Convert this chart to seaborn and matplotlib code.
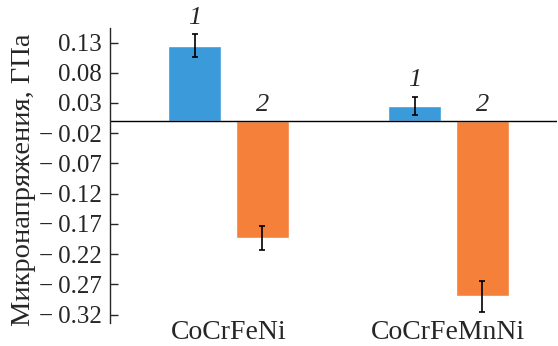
import pandas as pd
import matplotlib
matplotlib.use("Agg")
import matplotlib.pyplot as plt
import seaborn as sns

# ==========================
# DATA
# ==========================

alloys = ["CoCrFeNi", "CoCrFeMnNi"]
series = ["1", "2"]
values_1 = [0.125, 0.025]
values_2 = [-0.193, -0.290]
errors_1 = [0.019, 0.015]
errors_2 = [0.0195, 0.025]
yticks = [0.13, 0.08, 0.03, -0.02, -0.07, -0.12, -0.17, -0.22, -0.27, -0.32]

df = pd.DataFrame({
    "alloy": alloys * 2,
    "series": [series[0]] * 2 + [series[1]] * 2,
    "value": values_1 + values_2,
    "err": errors_1 + errors_2,
})

# ==========================
# STYLE
# ==========================

sns.set_style("ticks")
plt.rcParams["font.family"] = ["Liberation Serif", "DejaVu Serif"]

fig = plt.figure(figsize=(5.58, 3.46), dpi=100)
ax = fig.add_axes([0.197, 0.0665, 0.801, 0.8525])

sns.barplot(
    data=df,
    x="alloy",
    y="value",
    hue="series",
    hue_order=series,
    order=alloys,
    palette=["#3b9ad9", "#f5803a"],
    width=0.614,
    gap=0.215,
    errorbar=None,
    legend=False,
    saturation=1,
    ax=ax
)

# ==========================
# ERROR BARS + LABELS
# ==========================

for cont, lab, vals, errs in zip(ax.containers, series,
                                 [values_1, values_2], [errors_1, errors_2]):
    for bar, v, e in zip(cont, vals, errs):
        xc = bar.get_x() + bar.get_width() / 2
        ax.errorbar(xc, v, yerr=e, fmt="none", ecolor="black",
                    elinewidth=1.2, capsize=2.5, capthick=1.2)
        if v > 0:
            ax.annotate(lab, (xc, v + e), xytext=(0, 4),
                        textcoords="offset points", ha="center",
                        va="bottom", fontsize=19, style="italic",
                        annotation_clip=False)
        else:
            ax.annotate(lab, (xc, 0), xytext=(0, 7),
                        textcoords="offset points", ha="center",
                        va="baseline", fontsize=19, style="italic",
                        annotation_clip=False)

ax.axhline(0, color="black", linewidth=1)

# ==========================
# AXES
# ==========================

ax.set_xlim(-0.539, 1.493)
ax.set_ylim(-0.334, 0.154)
ax.set_yticks(yticks)
ax.set_yticklabels([f"{t:.2f}".replace("-", "\u2212\u2009") for t in yticks])
ax.tick_params(axis="y", direction="in", length=6, width=1,
               labelsize=18, pad=6)
ax.tick_params(axis="x", length=0, labelsize=20, pad=-2.5)
ax.set_xlabel("")
ax.set_ylabel("Микронапряжения, ГПа", fontsize=20.5)
ax.yaxis.set_label_coords(-0.165, 0.486)

sns.despine(ax=ax, bottom=True)
ax.spines["left"].set_linewidth(1)

plt.savefig("out.png", dpi=100)
plt.close()
